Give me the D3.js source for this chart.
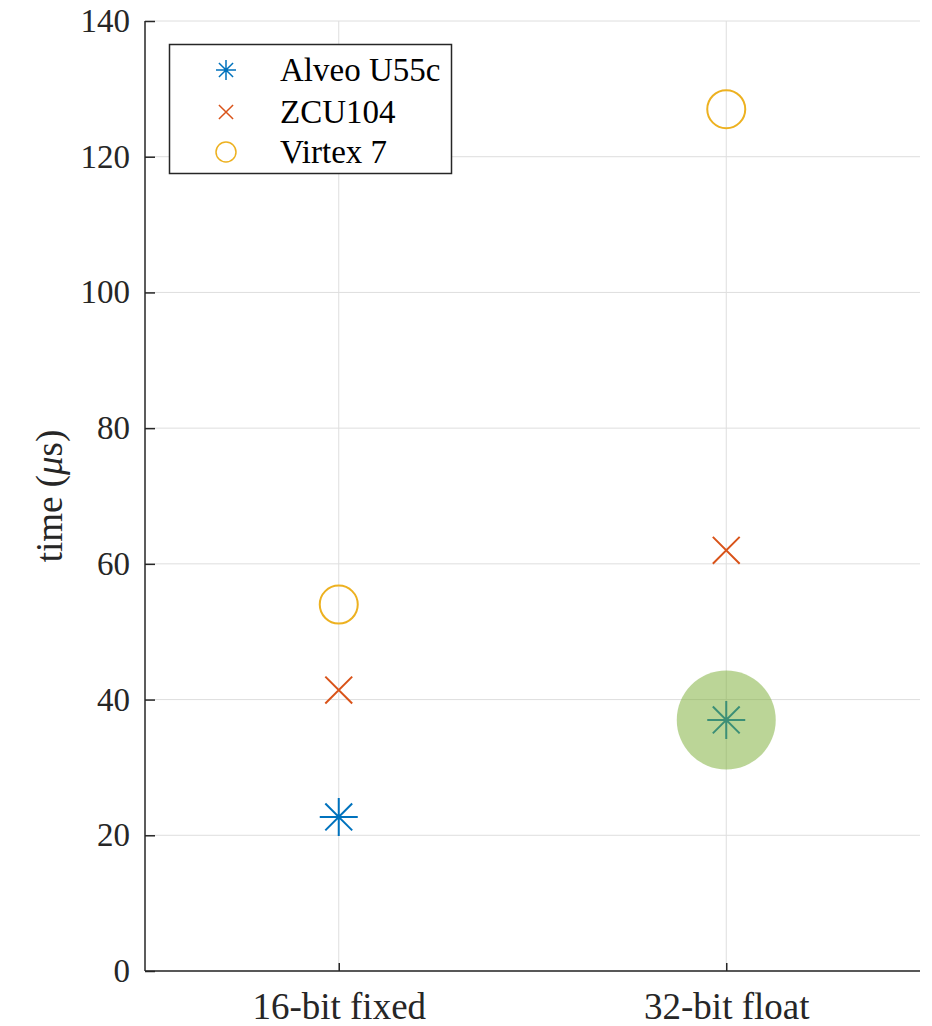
<!DOCTYPE html>
<html>
<head>
<meta charset="utf-8">
<script src="https://cdn.jsdelivr.net/npm/d3@7"></script>
<style>
  html, body { margin: 0; padding: 0; background: #fff; }
  svg text { font-family: "Liberation Serif", "Tinos", "Times New Roman", "DejaVu Serif", serif; }
</style>
</head>
<body>
<svg id="chart" width="932" height="1026"></svg>
<script>
// Latency per number format on three FPGA platforms
const categories = ["16-bit fixed", "32-bit float"];
const devices = ["Alveo U55c", "ZCU104", "Virtex 7"];
const alveoTime = [22.7, 37.0];
const zcuTime = [41.4, 62.0];
const virtexTime = [54.0, 127.0];
const yTicks = [0, 20, 40, 60, 80, 100, 120, 140];
// Best result, marked with a shaded disc
const highlightCategory = "32-bit float";
const highlightValue = 37.0;

const series = [
  { name: devices[0], values: alveoTime, marker: "asterisk", color: "#0072BD" },
  { name: devices[1], values: zcuTime, marker: "cross", color: "#D95319" },
  { name: devices[2], values: virtexTime, marker: "circle", color: "#EDB120" }
];

const svg = d3.select("#chart");
const m = { left: 145, right: 920, top: 21, bottom: 971 };

const x = d3.scaleLinear().domain([0.5, 2.5]).range([m.left, m.right]);
const y = d3.scaleLinear().domain([0, 140]).range([m.bottom, m.top]);
const xPos = c => x(categories.indexOf(c) + 1);

// grid
const grid = svg.append("g").attr("stroke", "#dedede").attr("stroke-width", 1);
grid.selectAll("line.h").data(yTicks).join("line")
  .attr("x1", m.left).attr("x2", m.right)
  .attr("y1", d => y(d)).attr("y2", d => y(d));
grid.selectAll("line.v").data(categories).join("line")
  .attr("x1", d => xPos(d)).attr("x2", d => xPos(d))
  .attr("y1", m.top).attr("y2", m.bottom);

// axes
const axisColor = "#262626";
const yAxis = d3.axisLeft(y).tickValues(yTicks).tickSize(-10).tickPadding(15).tickFormat(d3.format("d"));
const yg = svg.append("g").attr("transform", `translate(${m.left},0)`).call(yAxis);
const xAxis = d3.axisBottom(x).tickValues(categories.map((c, i) => i + 1))
  .tickFormat(d => categories[d - 1]).tickSize(-8).tickPadding(22);
const xg = svg.append("g").attr("transform", `translate(0,${m.bottom})`).call(xAxis);
[yg, xg].forEach(g => {
  g.attr("font-family", null);
  g.select(".domain").attr("stroke", axisColor).attr("stroke-width", 1.5)
    .attr("d", g === yg ? `M0,${m.top}V${m.bottom}` : `M${m.left},0H${m.right}`);
  g.selectAll(".tick line").attr("stroke", axisColor).attr("stroke-width", 1.5);
  g.selectAll(".tick text").attr("fill", "#262626");
});
yg.selectAll(".tick text").attr("font-size", 33);
xg.selectAll(".tick text").attr("font-size", 37);

// y label
const yl = svg.append("text")
  .attr("transform", `translate(62,${(m.top + m.bottom) / 2}) rotate(-90)`)
  .attr("text-anchor", "middle").attr("font-size", 37).attr("fill", "#262626");
yl.append("tspan").text("time (");
yl.append("tspan").attr("font-style", "italic").text("\u03bc");
yl.append("tspan").text("s)");

// marker drawing
function drawMarker(g, type, color, r, sw) {
  if (type === "asterisk") {
    const d = r * Math.SQRT1_2;
    g.append("path").attr("d",
      `M${-r},0H${r}M0,${-r}V${r}M${-d},${-d}L${d},${d}M${-d},${d}L${d},${-d}`)
      .attr("stroke", color).attr("stroke-width", sw).attr("fill", "none");
  } else if (type === "cross") {
    const d = r * Math.SQRT1_2;
    g.append("path").attr("d", `M${-d},${-d}L${d},${d}M${-d},${d}L${d},${-d}`)
      .attr("stroke", color).attr("stroke-width", sw).attr("fill", "none");
  } else {
    g.append("circle").attr("r", r).attr("stroke", color).attr("stroke-width", sw).attr("fill", "none");
  }
}

// data markers
series.forEach(s => {
  s.values.forEach((v, i) => {
    const g = svg.append("g").attr("transform", `translate(${x(i + 1)},${y(v)})`);
    drawMarker(g, s.marker, s.color, 19, 2);
  });
});

// highlight disc
svg.append("circle")
  .attr("cx", xPos(highlightCategory)).attr("cy", y(highlightValue))
  .attr("r", 49.5).attr("fill", "#77AC30").attr("fill-opacity", 0.5);

// legend
const lg = svg.append("g");
lg.append("rect").attr("x", 169.5).attr("y", 44.5).attr("width", 282).attr("height", 129)
  .attr("fill", "#fff").attr("stroke", "#262626").attr("stroke-width", 1.5);
const rowY = [70, 112, 152];
series.forEach((s, i) => {
  const g = lg.append("g").attr("transform", `translate(226,${rowY[i]})`);
  drawMarker(g, s.marker, s.color, 10, 1.5);
  lg.append("text").attr("x", 280).attr("y", rowY[i]).attr("dy", "0.34em")
    .attr("font-size", 33).attr("fill", "#000").text(s.name);
});
</script>
</body>
</html>
